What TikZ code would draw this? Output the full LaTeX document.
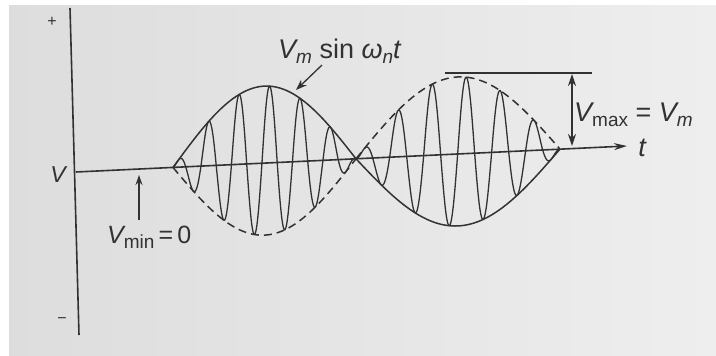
\documentclass[tikz,border=0pt]{standalone}
\usepackage{fontspec}
\setmainfont{Liberation Sans}
\usetikzlibrary{arrows.meta}
\definecolor{ink}{RGB}{50,50,50}
\definecolor{paperL}{RGB}{221,221,221}
\definecolor{paperR}{RGB}{238,238,238}
\newcommand\lblfont{\fontsize{27}{30}\selectfont}
\newcommand\sbs[1]{\raisebox{-0.22em}{\fontsize{19}{20}\selectfont #1}}
\tikzset{
  wave/.style={draw=ink,line width=1.5pt,line join=round},
  dashwave/.style={wave,dash pattern=on 8pt off 5pt},
  axisline/.style={draw=ink,line width=1.6pt},
  pointer/.style={draw=ink,line width=1.3pt,-{Stealth[length=11pt,width=8pt]}},
  twoway/.style={draw=ink,line width=1.3pt,{Stealth[length=12pt,width=8pt]}-{Stealth[length=12pt,width=8pt]}},
  lbl/.style={text=ink,inner sep=0pt,font=\lblfont},
  declare function={bx(\x)=172-0.0474*(\x-77);
                    amp(\v)=(\v>0)*77*\v+(\v<=0)*72*\v;}
}
\begin{document}
\begin{tikzpicture}[x=1pt,y=-1pt]
\useasboundingbox (0,0) rectangle (716,356);
\fill[white] (0,0) rectangle (716,356);
\shade[left color=paperL,right color=paperR] (9,5) rectangle (716,356);

% axes
\coordinate (vtop) at (70,8);
\coordinate (vbot) at (79,335);
\coordinate (hstart) at (76,172);
\coordinate (hend) at (627,146);
\draw[axisline] (vtop) -- (vbot);
\draw[axisline,-{Stealth[length=13pt,width=7pt]}] (hstart) -- (hend);

% envelopes, lobe 1 (x = 173 .. 356)
\draw[wave] plot[domain=0:1,samples=100,variable=\u]
  ({173+183*\u},{bx(173+183*\u)-77*sin(180*\u)});
\draw[dashwave] plot[domain=0:1,samples=100,variable=\u]
  ({173+183*\u},{bx(173+183*\u)+72*sin(180*\u)});
% envelopes, lobe 2 (x = 356 .. 560)
\draw[wave] plot[domain=0:1,samples=100,variable=\u]
  ({356+204*\u},{bx(356+204*\u)+72*sin(180*\u)});
\draw[dashwave] plot[domain=0:1,samples=100,variable=\u]
  ({356+204*\u},{bx(356+204*\u)-77*sin(180*\u)});

% carrier
\draw[wave,line width=1.3pt] plot[domain=0:1,samples=361,variable=\u,smooth]
  ({173+183*\u},{bx(173+183*\u)-amp(sin(180*\u)*cos(2160*\u-60))});
\draw[wave,line width=1.3pt] plot[domain=0:1,samples=361,variable=\u,smooth]
  ({356+204*\u},{bx(356+204*\u)-amp(-sin(180*\u)*cos(2160*\u+93.6))});

% V_max marker
\coordinate (topL) at (445,73);
\coordinate (topR) at (592,73);
\draw[axisline,line width=1.5pt] (topL) -- (topR);
\coordinate (mxT) at (572,74);
\coordinate (mxB) at (572,146);
\draw[twoway] (mxT) -- (mxB);

% labels
\node[lbl,anchor=base west] (lvm) at (278,58)
  {\itshape V\sbs{m}\upshape\ sin \itshape ω\sbs{n}t};
\coordinate (pA) at (322,65);
\coordinate (pB) at (296,90);
\draw[pointer] (pA) -- (pB);

\node[lbl,anchor=base west] (lvmax) at (574,121)
  {\itshape V\upshape\sbs{max} = \itshape V\sbs{m}};

\node[lbl,anchor=base west,font=\fontsize{25}{28}\selectfont] (lvmin) at (107,243)
  {\itshape V\upshape\sbs{min}\,=\,0};
\coordinate (nA) at (139,220);
\coordinate (nB) at (139,175);
\draw[pointer,-{Stealth[length=10pt,width=7pt]}] (nA) -- (nB);

\node[lbl,font=\fontsize{23}{26}\selectfont] (lV) at (58,175) {\itshape V};
\node[lbl] (lt) at (642,148) {\itshape t};
\node[lbl,font=\fontsize{16}{18}\selectfont] (lplus) at (52,22) {+};
\node[lbl,font=\fontsize{16}{18}\selectfont] (lminus) at (62,321) {−};
\end{tikzpicture}
\end{document}
